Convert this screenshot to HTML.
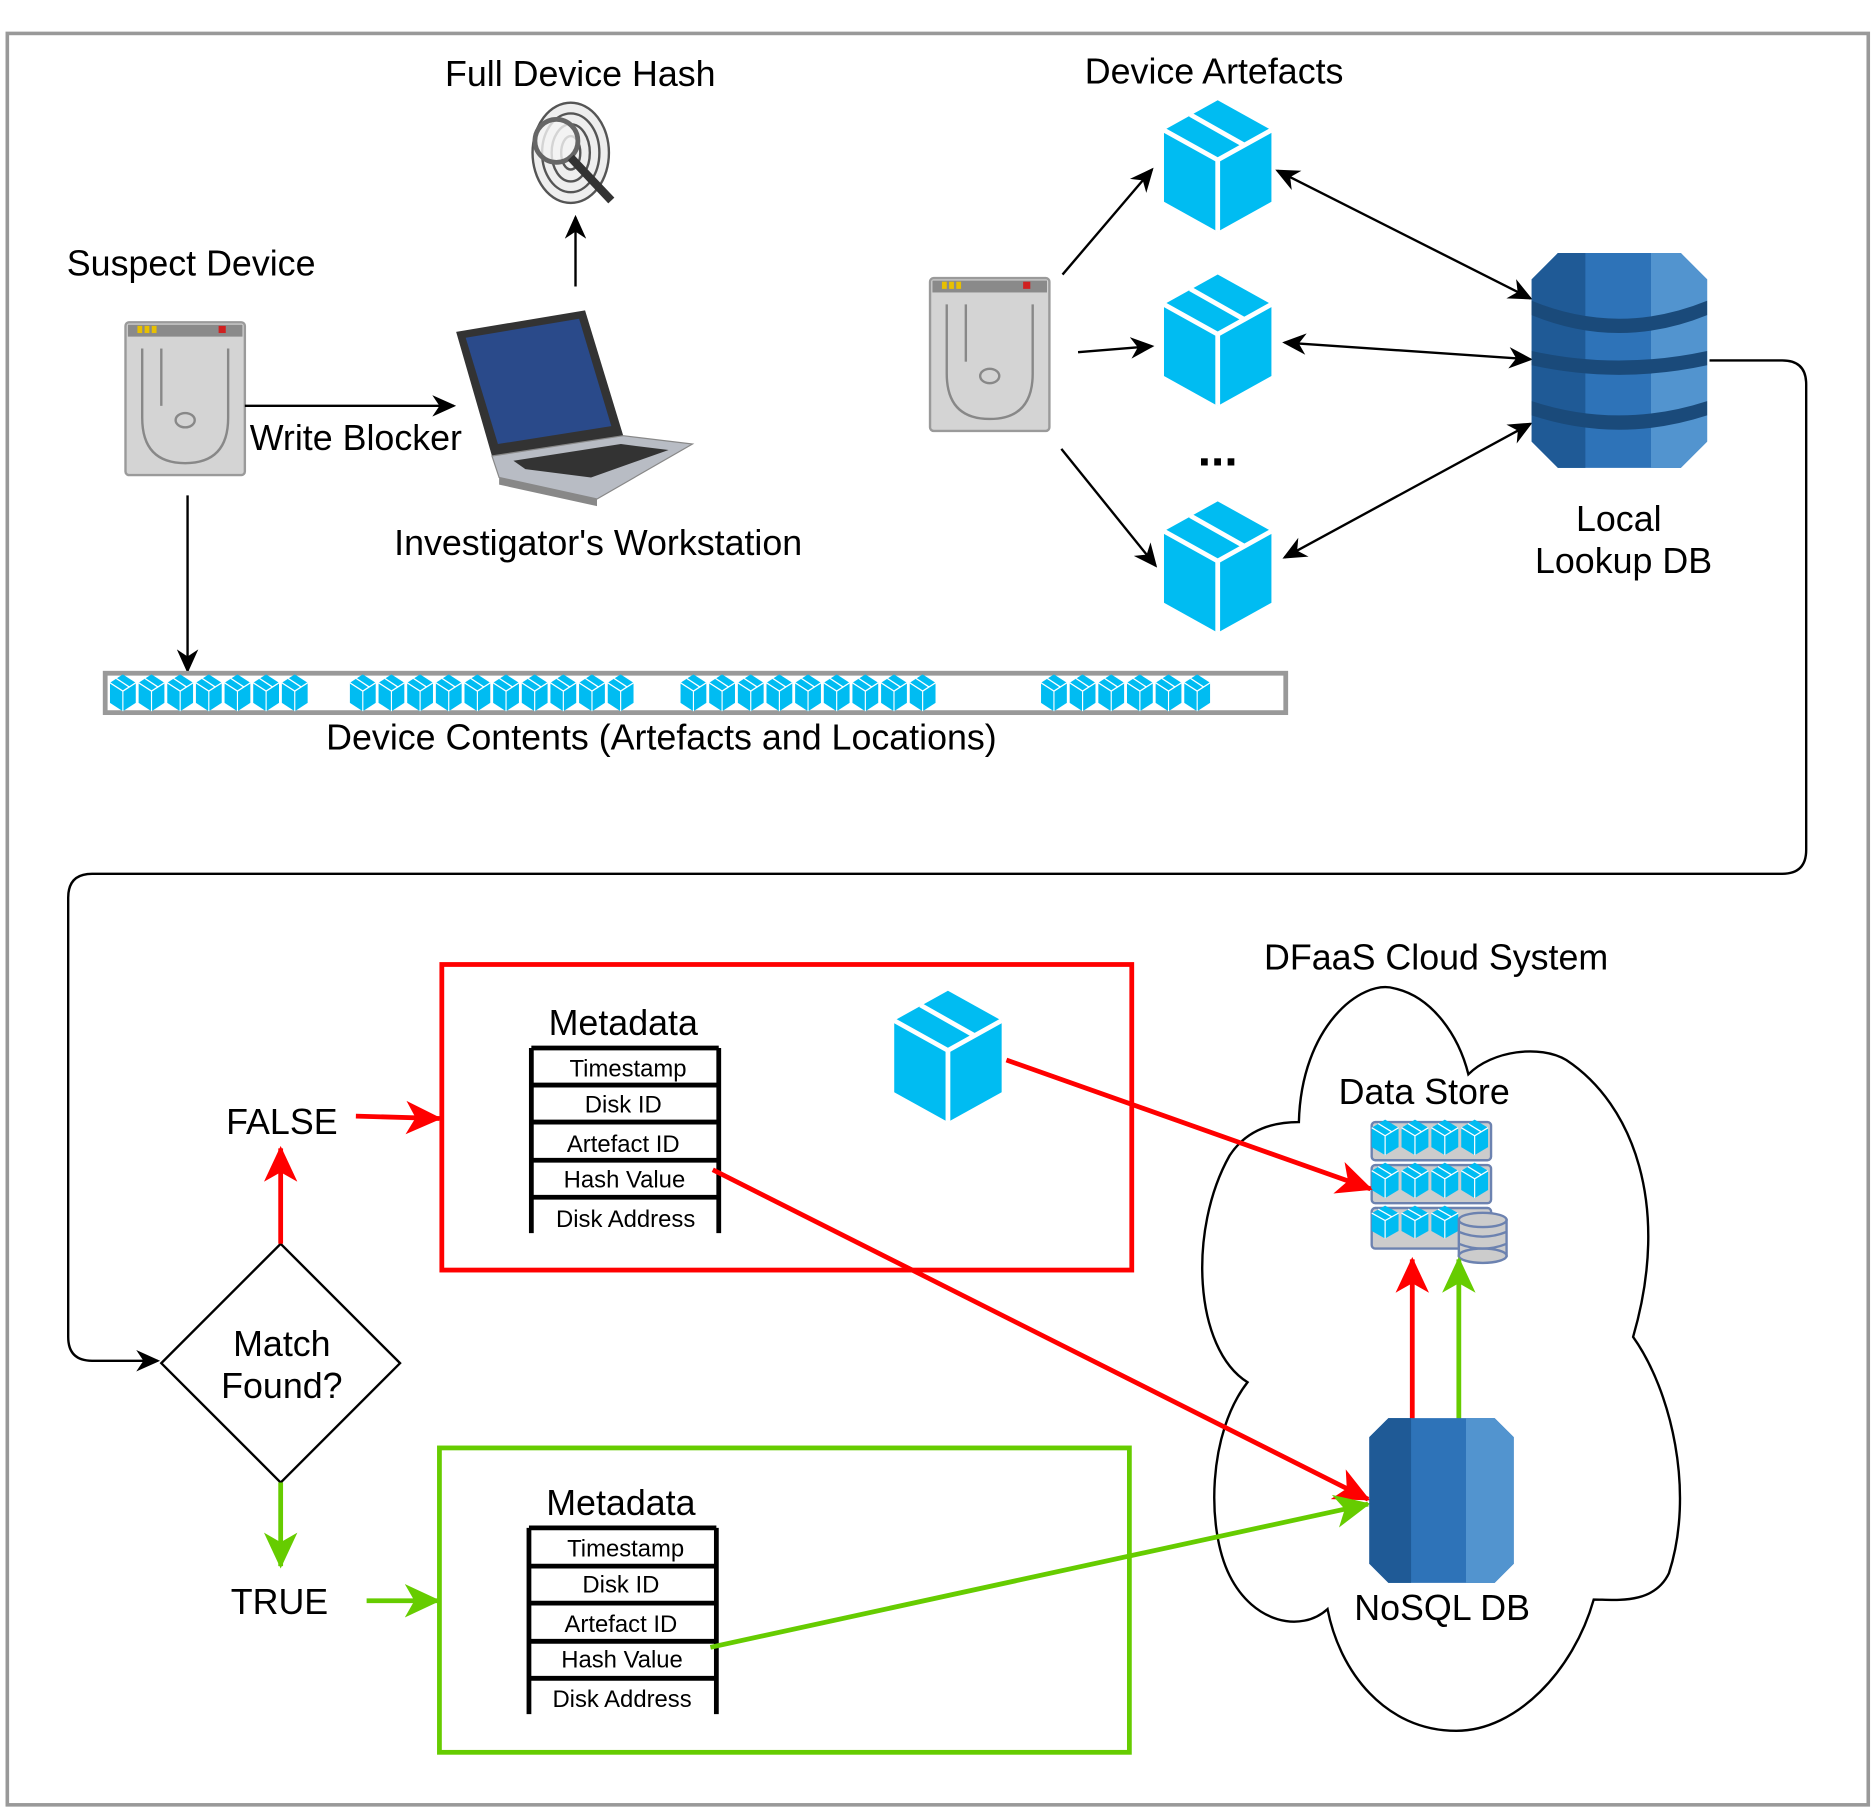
<!DOCTYPE html>
<html><head><meta charset="utf-8"><style>
html,body{margin:0;padding:0;background:#fff;}
svg{display:block;}
text{font-family:"Liberation Sans",Arial,sans-serif;fill:#000;}
</style></head><body>
<svg width="1872" height="1812" viewBox="0 0 1568 1518" xmlns="http://www.w3.org/2000/svg">
<defs>
<marker id="abs" markerWidth="20" markerHeight="20" refX="18" refY="10" orient="auto-start-reverse" markerUnits="userSpaceOnUse" viewBox="0 0 20 20"><path d="M0,1 L20,10 L0,19 L6,10 Z" fill="#000"/></marker>
<marker id="ar" markerWidth="30" markerHeight="30" refX="28" refY="15" orient="auto" markerUnits="userSpaceOnUse" viewBox="0 0 30 30"><path d="M0,1 L30,15 L0,29 L8,15 Z" fill="#f00"/></marker>
<marker id="ag" markerWidth="30" markerHeight="30" refX="28" refY="15" orient="auto" markerUnits="userSpaceOnUse" viewBox="0 0 30 30"><path d="M0,1 L30,15 L0,29 L8,15 Z" fill="#66cc00"/></marker>
<g id="cube">
<polygon points="45,0 90,25 90,85 45,110 0,85 0,25" fill="#00bcf2"/>
<polyline points="0,25 45,50 90,25" fill="none" stroke="#fff" stroke-width="4"/>
<line x1="45" y1="50" x2="45" y2="110" stroke="#fff" stroke-width="4"/>
<line x1="22" y1="12" x2="68" y2="38" stroke="#fff" stroke-width="4"/>
</g>
<g id="hdd">
<rect x="0" y="0" width="100" height="128" rx="3" fill="#d4d4d4" stroke="#9a9a9a" stroke-width="2"/>
<rect x="2" y="2" width="96" height="10" fill="#8a8a8a"/>
<rect x="10" y="3" width="4" height="6" fill="#e8c000"/><rect x="16" y="3" width="4" height="6" fill="#e8c000"/><rect x="22" y="3" width="4" height="6" fill="#e8c000"/><rect x="78" y="3" width="6" height="6" fill="#d02020"/>
<path d="M14,22 L14,80 Q14,118 50,118 Q86,118 86,80 L86,22" fill="none" stroke="#888" stroke-width="2"/>
<ellipse cx="50" cy="82" rx="8" ry="6" fill="none" stroke="#888" stroke-width="2"/>
<path d="M30,22 L30,70" stroke="#888" stroke-width="2"/>
</g>
<g id="db">
<polygon points="22,0 125,0 147,22 147,158 125,180 22,180 0,158 0,22" fill="#2e73b8"/>
<polygon points="100,0 125,0 147,22 147,158 125,180 100,180" fill="#5294cf"/>
<polygon points="22,0 45,0 45,180 22,180 0,158 0,22" fill="#1f5a96"/>
<path d="M0,40 Q73,70 147,40 L147,52 Q73,82 0,52 Z" fill="#1a4a7a"/>
<path d="M0,82 Q73,98 147,82 L147,94 Q73,110 0,94 Z" fill="#1a4a7a"/>
<path d="M0,124 Q73,148 147,124 L147,136 Q73,160 0,136 Z" fill="#1a4a7a"/>
</g>
</defs>

<rect x="6" y="28" width="1559" height="1484" fill="none" stroke="#999" stroke-width="3"/>

<text x="486" y="72" font-size="30" text-anchor="middle">Full Device Hash</text>
<g>
<ellipse cx="478" cy="128" rx="32" ry="42" fill="#eee" stroke="#555" stroke-width="2"/>
<ellipse cx="478" cy="128" rx="24" ry="33" fill="none" stroke="#555" stroke-width="2"/>
<ellipse cx="478" cy="128" rx="16" ry="24" fill="none" stroke="#555" stroke-width="2"/>
<ellipse cx="478" cy="128" rx="8" ry="14" fill="none" stroke="#555" stroke-width="2"/>
<circle cx="466" cy="118" r="18" fill="#f4f4f4" fill-opacity="0.8" stroke="#666" stroke-width="4"/>
<line x1="478" y1="132" x2="512" y2="168" stroke="#333" stroke-width="7"/>
</g>
<line x1="482" y1="240" x2="482" y2="182" stroke="#000" stroke-width="2" marker-end="url(#abs)"/>

<text x="160" y="231" font-size="30" text-anchor="middle">Suspect Device</text>
<use href="#hdd" x="105" y="270"/>
<line x1="205" y1="340" x2="380" y2="340" stroke="#000" stroke-width="2" marker-end="url(#abs)"/>
<text x="298" y="377" font-size="30" text-anchor="middle">Write Blocker</text>

<g>
<polygon points="382,278 490,260 522,365 412,382" fill="#333"/>
<polygon points="390,283 485,267 512,357 417,372" fill="#2a4a8a"/>
<polygon points="412,382 522,365 580,372 500,418 418,400" fill="#b8bcc4" stroke="#888" stroke-width="1"/>
<polygon points="430,386 520,372 560,377 495,400 440,393" fill="#333"/>
<polygon points="418,400 500,418 500,424 418,406" fill="#888"/>
</g>
<text x="501" y="465" font-size="30" text-anchor="middle">Investigator's Workstation</text>

<line x1="157" y1="415" x2="157" y2="562" stroke="#000" stroke-width="2" marker-end="url(#abs)"/>
<rect x="88" y="564" width="989" height="33" fill="#fff" stroke="#999" stroke-width="4"/>
<g>
<g transform="translate(92,565) scale(0.24,0.28)"><use href="#cube"/><use href="#cube" x="100"/><use href="#cube" x="200"/><use href="#cube" x="300"/><use href="#cube" x="400"/><use href="#cube" x="500"/><use href="#cube" x="600"/></g>
<g transform="translate(293,565) scale(0.24,0.28)"><use href="#cube"/><use href="#cube" x="100"/><use href="#cube" x="200"/><use href="#cube" x="300"/><use href="#cube" x="400"/><use href="#cube" x="500"/><use href="#cube" x="600"/><use href="#cube" x="700"/><use href="#cube" x="800"/><use href="#cube" x="900"/></g>
<g transform="translate(570,565) scale(0.24,0.28)"><use href="#cube"/><use href="#cube" x="100"/><use href="#cube" x="200"/><use href="#cube" x="300"/><use href="#cube" x="400"/><use href="#cube" x="500"/><use href="#cube" x="600"/><use href="#cube" x="700"/><use href="#cube" x="800"/></g>
<g transform="translate(872,565) scale(0.24,0.28)"><use href="#cube"/><use href="#cube" x="100"/><use href="#cube" x="200"/><use href="#cube" x="300"/><use href="#cube" x="400"/><use href="#cube" x="500"/></g>
</g>
<text x="554" y="628" font-size="30" text-anchor="middle">Device Contents (Artefacts and Locations)</text>

<text x="1017" y="70" font-size="30" text-anchor="middle">Device Artefacts</text>
<use href="#hdd" x="779" y="233"/>
<use href="#cube" x="975" y="84"/>
<use href="#cube" x="975" y="230"/>
<use href="#cube" x="975" y="420"/>
<text x="1020" y="390" font-size="40" text-anchor="middle" font-weight="bold">...</text>
<line x1="890" y1="230" x2="965" y2="142" stroke="#000" stroke-width="2" marker-end="url(#abs)"/>
<line x1="903" y1="295" x2="965" y2="290" stroke="#000" stroke-width="2" marker-end="url(#abs)"/>
<line x1="889" y1="376" x2="968" y2="474" stroke="#000" stroke-width="2" marker-end="url(#abs)"/>
<line x1="1070" y1="143" x2="1282" y2="250" stroke="#000" stroke-width="2" marker-start="url(#abs)" marker-end="url(#abs)"/>
<line x1="1076" y1="287" x2="1282" y2="301" stroke="#000" stroke-width="2" marker-start="url(#abs)" marker-end="url(#abs)"/>
<line x1="1076" y1="467" x2="1282" y2="355" stroke="#000" stroke-width="2" marker-start="url(#abs)" marker-end="url(#abs)"/>
<use href="#db" x="1283" y="212"/>
<text x="1356" y="445" font-size="30" text-anchor="middle">Local</text>
<text x="1360" y="480" font-size="30" text-anchor="middle">Lookup DB</text>

<path d="M1432,302 L1493,302 Q1513,302 1513,322 L1513,712 Q1513,732 1493,732 L77,732 Q57,732 57,752 L57,1120 Q57,1140 77,1140 L132,1140" fill="none" stroke="#000" stroke-width="2" marker-end="url(#abs)"/>

<polygon points="235,1042 335,1142 235,1242 135,1142" fill="#fff" stroke="#000" stroke-width="2"/>
<text x="236" y="1136" font-size="30" text-anchor="middle">Match</text>
<text x="236" y="1171" font-size="30" text-anchor="middle">Found?</text>

<line x1="235" y1="1042" x2="235" y2="962" stroke="#f00" stroke-width="4" marker-end="url(#ar)"/>
<text x="236" y="950" font-size="30" text-anchor="middle">FALSE</text>
<line x1="298" y1="935" x2="368" y2="937" stroke="#f00" stroke-width="4" marker-end="url(#ar)"/>
<line x1="235" y1="1242" x2="235" y2="1312" stroke="#66cc00" stroke-width="4" marker-end="url(#ag)"/>
<text x="234" y="1352" font-size="30" text-anchor="middle">TRUE</text>
<line x1="307" y1="1341" x2="367" y2="1341" stroke="#66cc00" stroke-width="4" marker-end="url(#ag)"/>

<rect x="370" y="808" width="578" height="256" fill="none" stroke="#f00" stroke-width="4"/>
<text x="522" y="867" font-size="30" text-anchor="middle">Metadata</text>
<g stroke="#000" stroke-width="4" fill="none">
<line x1="445" y1="878" x2="445" y2="1033"/><line x1="602" y1="878" x2="602" y2="1033"/>
<line x1="445" y1="878" x2="602" y2="878"/><line x1="445" y1="909" x2="602" y2="909"/><line x1="445" y1="940" x2="602" y2="940"/><line x1="445" y1="972" x2="602" y2="972"/><line x1="445" y1="1003" x2="602" y2="1003"/>
</g>
<g font-size="20" text-anchor="middle">
<text x="526" y="902">Timestamp</text><text x="522" y="932">Disk ID</text><text x="522" y="965">Artefact ID</text><text x="523" y="995">Hash Value</text><text x="524" y="1028">Disk Address</text>
</g>
<use href="#cube" x="749" y="830"/>

<rect x="368" y="1213" width="578" height="255" fill="none" stroke="#66cc00" stroke-width="4"/>
<text x="520" y="1269" font-size="30" text-anchor="middle">Metadata</text>
<g stroke="#000" stroke-width="4" fill="none">
<line x1="443" y1="1280" x2="443" y2="1436"/><line x1="600" y1="1280" x2="600" y2="1436"/>
<line x1="443" y1="1280" x2="600" y2="1280"/><line x1="443" y1="1312" x2="600" y2="1312"/><line x1="443" y1="1343" x2="600" y2="1343"/><line x1="443" y1="1375" x2="600" y2="1375"/><line x1="443" y1="1406" x2="600" y2="1406"/>
</g>
<g font-size="20" text-anchor="middle">
<text x="524" y="1304">Timestamp</text><text x="520" y="1334">Disk ID</text><text x="520" y="1367">Artefact ID</text><text x="521" y="1397">Hash Value</text><text x="521" y="1430">Disk Address</text>
</g>

<text x="1203" y="812" font-size="30" text-anchor="middle">DFaaS Cloud System</text>
<path d="M1088,940 C1090,860 1140,820 1168,828 C1200,835 1222,868 1230,900 C1250,880 1290,875 1312,888 C1368,925 1400,1010 1368,1120 C1400,1165 1420,1250 1398,1318 C1385,1345 1352,1340 1335,1340 C1318,1400 1270,1450 1220,1450 C1160,1450 1122,1400 1112,1348 C1090,1368 1050,1360 1030,1320 C1010,1280 1012,1200 1045,1158 C1000,1130 995,1030 1030,968 C1045,945 1068,940 1088,940 Z" fill="#fff" stroke="#000" stroke-width="2"/>
<text x="1193" y="925" font-size="30" text-anchor="middle">Data Store</text>

<g>
<rect x="1149" y="940" width="100" height="32" rx="3" fill="#ccc" stroke="#6c82b0" stroke-width="2"/>
<rect x="1149" y="976" width="100" height="32" rx="3" fill="#ccc" stroke="#6c82b0" stroke-width="2"/>
<rect x="1149" y="1012" width="100" height="34" rx="3" fill="#ccc" stroke="#6c82b0" stroke-width="2"/>
<g transform="translate(1149,938) scale(0.25,0.27)"><use href="#cube"/><use href="#cube" x="100"/><use href="#cube" x="200"/><use href="#cube" x="300"/></g>
<g transform="translate(1149,974) scale(0.25,0.27)"><use href="#cube"/><use href="#cube" x="100"/><use href="#cube" x="200"/><use href="#cube" x="300"/></g>
<g transform="translate(1149,1010) scale(0.25,0.25)"><use href="#cube"/><use href="#cube" x="100"/><use href="#cube" x="200"/></g>
<rect x="1222" y="1022" width="40" height="30" fill="#ccc" stroke="#6c82b0" stroke-width="2"/>
<ellipse cx="1242" cy="1022" rx="20" ry="6" fill="#ccc" stroke="#6c82b0" stroke-width="2"/>
<ellipse cx="1242" cy="1052" rx="20" ry="6" fill="#ccc" stroke="#6c82b0" stroke-width="2"/>
<path d="M1222,1032 Q1242,1040 1262,1032 M1222,1042 Q1242,1050 1262,1042" fill="none" stroke="#6c82b0" stroke-width="2"/>
</g>

<line x1="843" y1="888" x2="1148" y2="996" stroke="#f00" stroke-width="4" marker-end="url(#ar)"/>
<line x1="597" y1="980" x2="1146" y2="1256" stroke="#f00" stroke-width="4" marker-end="url(#ar)"/>
<line x1="595" y1="1380" x2="1146" y2="1260" stroke="#66cc00" stroke-width="4" marker-end="url(#ag)"/>
<line x1="1183" y1="1190" x2="1183" y2="1055" stroke="#f00" stroke-width="4" marker-end="url(#ar)"/>
<line x1="1222" y1="1190" x2="1222" y2="1055" stroke="#66cc00" stroke-width="4" marker-end="url(#ag)"/>

<g>
<polygon points="1163,1188 1252,1188 1268,1204 1268,1310 1252,1326 1163,1326 1147,1310 1147,1204" fill="#2e73b8"/>
<polygon points="1228,1188 1252,1188 1268,1204 1268,1310 1252,1326 1228,1326" fill="#5294cf"/>
<polygon points="1163,1188 1182,1188 1182,1326 1163,1326 1147,1310 1147,1204" fill="#1f5a96"/>
</g>
<text x="1208" y="1357" font-size="30" text-anchor="middle">NoSQL DB</text>
</svg>
</body></html>
